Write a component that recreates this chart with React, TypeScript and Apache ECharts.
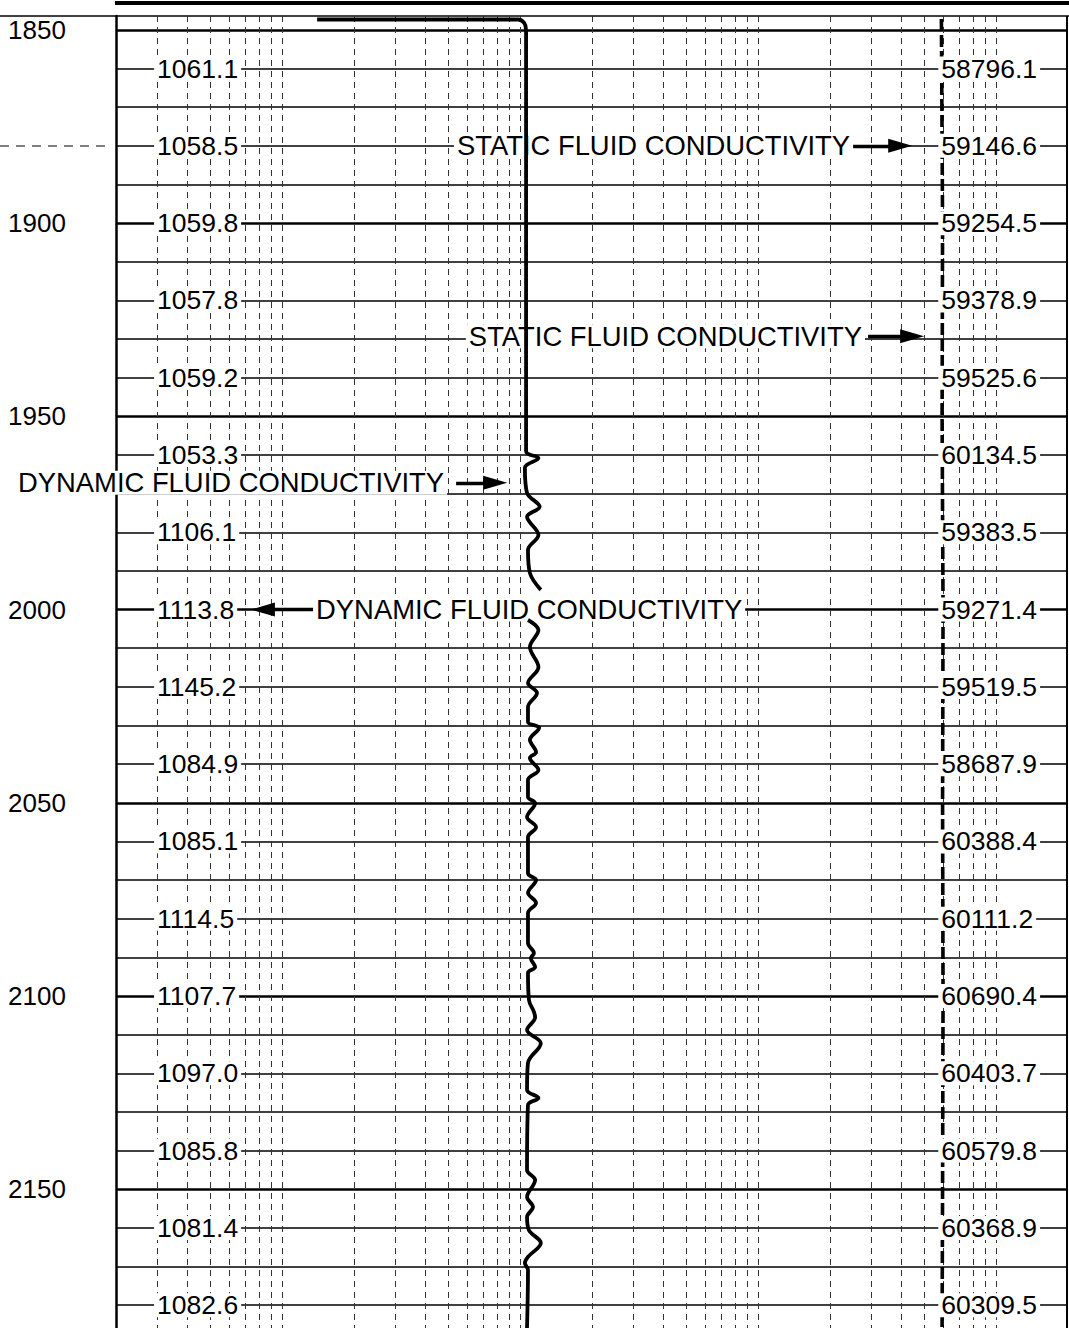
import React, { useEffect, useRef } from "react";
import * as echarts from "echarts";

const DEPTH_LABELS = [1850, 1900, 1950, 2000, 2050, 2100, 2150];
const GRID_DEPTHS = [
  1850, 1860, 1870, 1880, 1890, 1900, 1910, 1920, 1930, 1940, 1950, 1960,
  1970, 1980, 1990, 2000, 2010, 2020, 2030, 2040, 2050, 2060, 2070, 2080,
  2090, 2100, 2110, 2120, 2130, 2140, 2150, 2160, 2170, 2180,
];
const HEAVY_DEPTHS = [1850, 1900, 1950, 2000, 2050, 2100, 2150];
// track is 4 cycles of 100 units; within a cycle grid lines sit at these offsets
const CYCLE_STARTS = [0, 100, 200, 300];
const CYCLE_LINE_OFFSETS = [0, 17.4, 30.0, 39.7, 47.5, 54.2, 60.1, 65.1, 69.7];

const READ_DEPTHS = [
  1860, 1880, 1900, 1920, 1940, 1960, 1980, 2000, 2020, 2040, 2060, 2080,
  2100, 2120, 2140, 2160, 2180,
];
const DYNAMIC_READINGS = [
  1061.1, 1058.5, 1059.8, 1057.8, 1059.2, 1053.3, 1106.1, 1113.8, 1145.2,
  1084.9, 1085.1, 1114.5, 1107.7, 1097.0, 1085.8, 1081.4, 1082.6,
];
const STATIC_READINGS = [
  58796.1, 59146.6, 59254.5, 59378.9, 59525.6, 60134.5, 59383.5, 59271.4,
  59519.5, 58687.9, 60388.4, 60111.2, 60690.4, 60403.7, 60579.8, 60368.9,
  60309.5,
];

// dynamic fluid conductivity trace (track units, depth); "-" = gap in the trace
const DYN_VALUES: (number | string)[] = [
  84.5, 169.0, 171.5, 172.3, 172.3, 172.3, 177.5, 171.8, 172.7, 178.0, 172.7,
  177.5, 173.1, 173.9, 178.5, "-", 173.1, 177.5, 173.9, 177.5, 173.1, 176.9, 173.1,
  173.1, 177.8, 173.9, 176.5, 173.9, 177.5, 173.1, 173.1, 176.1, 172.7, 176.5,
  173.1, 173.1, 176.5, 173.1, 176.5, 173.1, 173.1, 175.6, 174.3, 176.1, 173.1,
  173.5, 175.6, 176.1, 172.7, 178.5, 173.1, 172.7, 177.5, 173.1, 172.7, 176.1,
  172.7, 175.2, 172.7, 173.5, 178.5, 173.1, 171.8, 173.1, 172.7,
];
const DYN_DEPTHS: (number | string)[] = [
  1847.3, 1847.3, 1848.2, 1850.0, 1900.0, 1959.0, 1960.8, 1963.3, 1969.8,
  1973.4, 1976.0, 1980.7, 1984.6, 1990.5, 1994.9, "-", 2002.7, 2005.3, 2009.7,
  2014.9, 2019.0, 2021.6, 2025.2, 2029.1, 2030.6, 2033.7, 2036.9, 2038.4,
  2041.5, 2044.1, 2048.5, 2050.1, 2053.7, 2056.3, 2058.9, 2068.2, 2070.0,
  2073.3, 2075.9, 2078.5, 2086.3, 2088.9, 2090.2, 2092.5, 2094.0, 2101.0,
  2104.1, 2105.5, 2108.8, 2112.2, 2117.3, 2124.3, 2126.4, 2128.2, 2145.0,
  2147.6, 2152.0, 2154.6, 2157.2, 2160.6, 2163.9, 2167.5, 2169.1, 2170.9,
  2185.9,
];

// static fluid conductivity trace
const STAT_VALUES = [346.8, 347.3, 347.1, 347.5, 347.3, 347.5, 347.3, 347.1];
const STAT_DEPTHS = [1847.2, 1900, 1950, 2000, 2050, 2100, 2150, 2185.9];

// annotations
const NOTE_TEXTS = [
  "STATIC FLUID CONDUCTIVITY",
  "STATIC FLUID CONDUCTIVITY",
  "DYNAMIC FLUID CONDUCTIVITY",
  "DYNAMIC FLUID CONDUCTIVITY",
];
const NOTE_DEPTHS = [1880, 1929.3, 1967.2, 2000];
const NOTE_ANCHORS = [309.7, 314.7, 139.1, 82.8];
const NOTE_SIDES = ["left", "left", "left", "right"];
const ARROW_FROM = [308.8, 316.0, 142.9, 83.6];
const ARROW_TO = [329.5, 334.5, 159.3, 61.7];

const FONT = '"Liberation Sans", Arial, Helvetica, sans-serif';
const LEFT_NUM_X = 16.0;
const RIGHT_NUM_X = 345.5;

export default function App() {
  const ref = useRef<HTMLDivElement>(null);

  useEffect(() => {
    document.body.style.margin = "0";
    const chart = echarts.init(ref.current!, null, { renderer: "svg" });

    const gridLines: any[] = [];
    GRID_DEPTHS.forEach((d) => {
      gridLines.push({
        yAxis: d,
        lineStyle: {
          color: "#000",
          width: HEAVY_DEPTHS.includes(d) ? 2.5 : 1.6,
          type: "solid",
        },
      });
    });
    CYCLE_STARTS.forEach((c) => {
      CYCLE_LINE_OFFSETS.forEach((o) => {
        if (c + o === 0) return;
        gridLines.push({
          xAxis: c + o,
          lineStyle: { color: "#333", width: 1, type: [6, 5] },
        });
      });
    });
    gridLines.push({
      xAxis: 399.3,
      lineStyle: { color: "#000", width: 2, type: "solid" },
    });

    const arrows = ARROW_FROM.map((x1, i) => [
      { coord: [x1, NOTE_DEPTHS[i]], symbol: "none" },
      { coord: [ARROW_TO[i], NOTE_DEPTHS[i]], symbol: "triangle" },
    ]);

    const labelBase = {
      show: true,
      fontFamily: FONT,
      color: "#000",
      backgroundColor: "#fff",
      lineHeight: 24,
      padding: [0, 3],
      distance: 0,
    };

    const option: any = {
      animation: false,
      backgroundColor: "#fff",
      grid: {
        left: 116,
        top: 16,
        width: 952,
        height: 1312,
        outerBoundsMode: "none",
        containLabel: false,
      },
      xAxis: {
        type: "value",
        min: 0,
        max: 400,
        show: false,
        splitLine: { show: false },
      },
      yAxis: {
        type: "value",
        inverse: true,
        min: 1846.4,
        max: 2185.9,
        axisLine: {
          show: true,
          onZero: false,
          lineStyle: { color: "#000", width: 2.5 },
        },
        axisTick: { show: false },
        splitLine: { show: false },
        axisLabel: {
          show: true,
          customValues: DEPTH_LABELS,
          formatter: (v: number) =>
            DEPTH_LABELS.indexOf(v) >= 0 ? String(v) : "",
          align: "left",
          margin: 108,
          fontSize: 26,
          fontFamily: FONT,
          color: "#000",
        },
      },
      graphic: [
        {
          type: "line",
          shape: { x1: 115, y1: 3, x2: 1069, y2: 3 },
          style: { stroke: "#000", lineWidth: 4 },
          silent: true,
        },
        {
          type: "line",
          shape: { x1: 0, y1: 16, x2: 1069, y2: 16 },
          style: { stroke: "#000", lineWidth: 1.5 },
          silent: true,
        },
        {
          type: "line",
          shape: { x1: 0, y1: 146, x2: 112, y2: 146 },
          style: { stroke: "#555", lineWidth: 1.3, lineDash: [9, 7] },
          silent: true,
        },
      ],
      series: [
        {
          name: "grid",
          type: "line",
          data: [[0, 1850]],
          showSymbol: false,
          lineStyle: { opacity: 0 },
          silent: true,
          z: 1,
          markLine: {
            silent: true,
            symbol: ["none", "none"],
            label: { show: false },
            animation: false,
            z: 1,
            data: gridLines,
          },
        },
        {
          name: "Static fluid conductivity",
          type: "line",
          data: STAT_VALUES.map((v, i) => [v, STAT_DEPTHS[i]]),
          showSymbol: false,
          lineStyle: { color: "#000", width: 3.6, type: [12, 4] },
          z: 3,
        },
        {
          name: "Dynamic fluid conductivity",
          type: "line",
          data: DYN_VALUES.map((v, i) => [v, DYN_DEPTHS[i]]),
          showSymbol: false,
          connectNulls: false,
          smooth: 0.35,
          lineStyle: { color: "#000", width: 3.8 },
          z: 12,
        },
        {
          name: "arrows",
          type: "line",
          data: [],
          z: 6,
          markLine: {
            silent: true,
            z: 6,
            symbolSize: [14, 24],
            label: { show: false },
            lineStyle: { color: "#000", width: 3.4, type: "solid", opacity: 1 },
            animation: false,
            data: arrows,
          },
        },
        {
          name: "dynamic readings",
          type: "scatter",
          symbolSize: 0,
          z: 10,
          itemStyle: { opacity: 1 },
          data: READ_DEPTHS.map((d, i) => [LEFT_NUM_X, d, DYNAMIC_READINGS[i]]),
          label: {
            ...labelBase,
            position: "right",
            fontSize: 26.5,
            formatter: (p: any) => p.value[2].toFixed(1),
          },
        },
        {
          name: "static readings",
          type: "scatter",
          symbolSize: 0,
          z: 10,
          itemStyle: { opacity: 1 },
          data: READ_DEPTHS.map((d, i) => [RIGHT_NUM_X, d, STATIC_READINGS[i]]),
          label: {
            ...labelBase,
            position: "right",
            fontSize: 26.5,
            formatter: (p: any) => p.value[2].toFixed(1),
          },
        },
        {
          name: "notes",
          type: "scatter",
          symbolSize: 0,
          z: 10,
          itemStyle: { opacity: 1 },
          data: NOTE_TEXTS.map((t, i) => ({
            value: [NOTE_ANCHORS[i], NOTE_DEPTHS[i]],
            label: { position: NOTE_SIDES[i], formatter: t },
          })),
          label: { ...labelBase, fontSize: 27.4 },
        },
      ],
    };

    chart.setOption(option);
    return () => chart.dispose();
  }, []);

  return (
    <div
      ref={ref}
      style={{
        position: "absolute",
        left: 0,
        top: 0,
        width: 1069,
        height: 1328,
        background: "#fff",
      }}
    />
  );
}
